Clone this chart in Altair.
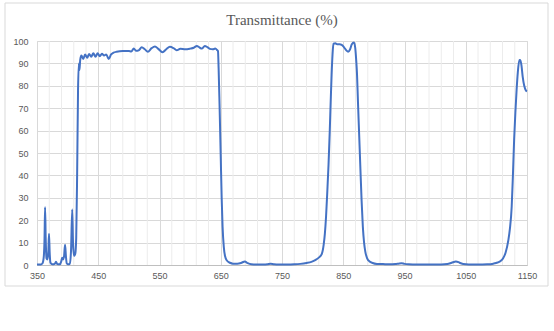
import altair as alt
import pandas as pd

wavelength = [
    350, 356, 359, 361, 362.3, 363.2, 364.2, 365.5, 367, 368.5, 369.6, 370.8, 372, 375, 379, 381, 383,
    387, 389.5, 391, 392.5, 394, 395.8, 397.2, 398.5, 401, 403.5, 405.5, 407.5, 408.8, 410.5, 412.5,
    414, 415.5, 417, 418.3, 419.3, 420.5, 422.5, 425.5, 428.5, 432, 435, 438.5, 442, 445.5, 449,
    452.5, 456, 459.5, 463, 467, 471, 475, 480, 490, 500, 504, 508, 512, 516,
    521, 526, 531, 537, 542.6, 548, 555, 561, 567, 573, 578, 584, 592, 600, 606, 611, 615, 619, 624,
    628, 632, 637, 641, 644, 645.5, 646.5, 648, 650, 651.5, 653, 655, 657, 660, 665, 670, 677, 683,
    689.5, 694, 700, 710, 720, 726, 731.5, 737, 745, 760, 770, 780, 790, 798, 805, 810, 815, 818, 820,
    822, 824, 826, 828, 829.5, 831, 832.5, 834, 837, 840, 844, 847.5, 851, 855, 858, 861, 864, 867.5,
    869.5, 871, 872.5, 874, 876, 878, 880, 882, 884, 886, 889, 893, 898, 905, 915, 925, 935, 940, 945,
    950, 957, 970, 990, 1010, 1020, 1027, 1034, 1040, 1046, 1055, 1070, 1085, 1095, 1102, 1107, 1111,
    1115, 1119.5, 1122, 1125, 1127, 1129, 1131, 1133, 1135, 1137.5, 1139, 1141, 1143, 1145.5, 1148, 1150,
]
transmittance = [
    0.2, 0.2, 0.8, 3.5, 12, 25.8, 12, 3, 2.5, 6, 14, 5, 1, 0.3, 0.5, 1.5, 0.4,
    0.3, 1.5, 3.2, 2.5, 3.5, 9, 4, 0.8, 0.3, 0.6, 6, 24.8, 10, 4, 5,
    12, 40, 78, 90, 87, 91.5, 93.5, 92, 94, 92.5, 94.2, 93, 94.5, 93, 94.5,
    93.2, 94.3, 93.5, 94, 92, 94, 94.8, 95.2, 95.5, 95.5, 95.3, 96.6, 95.6, 95.8,
    97.2, 96.3, 95.2, 96.8, 97.6, 96.5, 95, 96.3, 97.4, 96.8, 95.9, 96.5, 96.3, 96.6, 97, 97.8, 97.2, 96.6, 97.8,
    97.3, 96.5, 96.3, 96.6, 96, 95.5, 88, 72, 48, 30, 17, 8, 4, 2, 1, 0.6, 0.6, 0.9,
    1.6, 0.8, 0.3, 0.2, 0.2, 0.3, 0.6, 0.3, 0.2, 0.2, 0.3, 0.5, 0.9, 1.4, 2.3, 3.3, 5, 9, 14,
    22, 33, 45, 60, 73, 85, 94, 98.8, 99, 98.5, 98.6, 98.3, 97.3, 95.8, 95.2, 96.2, 98.5, 99.3,
    97, 92, 85, 73, 58, 43, 28.5, 17, 10, 6, 3, 1.6, 0.9, 0.5, 0.4, 0.3, 0.4, 0.6, 0.8,
    0.5, 0.3, 0.2, 0.2, 0.2, 0.4, 1, 1.6, 1, 0.4, 0.2, 0.2, 0.3, 0.6, 1.1, 1.8, 3,
    5.5, 11, 16, 26, 40, 56, 68, 78, 86, 91.5, 91.5, 89, 84, 80, 78, 77.5,
]

x_labels = [350, 450, 550, 650, 750, 850, 950, 1050, 1150]
y_ticks = [0, 10, 20, 30, 40, 50, 60, 70, 80, 90, 100]
minor_grid = [370, 390, 410, 430, 470, 490, 510, 530, 570, 590, 610, 630, 670, 690, 710, 730,
              770, 790, 810, 830, 870, 890, 910, 930, 970, 990, 1010, 1030, 1070, 1090, 1110, 1130]
title_text = "Transmittance (%)"

df = pd.DataFrame({"wl": wavelength, "t": transmittance})
grid_df = pd.DataFrame({"g": minor_grid})

label_font = "Liberation Sans"
gray = "#595959"

xscale = alt.Scale(domain=[350, 1150], nice=False, zero=False)
yscale = alt.Scale(domain=[0, 100], nice=False)

x_axis = alt.Axis(values=x_labels, grid=True, gridColor="#d9d9d9", format="d",
                  domainColor="#bfbfbf", ticks=False, labelPadding=6,
                  labelFontSize=9, labelColor=gray, labelFont=label_font,
                  labelFlush=False)
y_axis = alt.Axis(values=y_ticks, grid=True, gridColor="#d9d9d9", format="d",
                  domain=False, ticks=False, labelPadding=9,
                  labelFontSize=9, labelColor=gray, labelFont=label_font)

one = pd.DataFrame({"a": [0]})

frame = alt.Chart(one).mark_rect(
    fill=None, stroke="#d9d9d9", strokeWidth=1
).encode(
    x=alt.value(-32), x2=alt.value(511), y=alt.value(-38), y2=alt.value(245)
)

title = alt.Chart(one).mark_text(
    font="Liberation Serif", fontSize=15, color=gray, align="center", baseline="alphabetic"
).encode(
    x=alt.value(245), y=alt.value(-16), text=alt.value(title_text)
)

minor = alt.Chart(grid_df).mark_rule(color="#ececec", strokeWidth=1).encode(
    x=alt.X("g:Q", scale=xscale, title=None, axis=x_axis)
)

line = alt.Chart(df).mark_line(
    color="#4472C4", strokeWidth=2, interpolate="monotone"
).encode(
    x=alt.X("wl:Q", scale=xscale, title=None, axis=x_axis),
    y=alt.Y("t:Q", scale=yscale, title=None, axis=y_axis),
)

chart = alt.layer(frame, title, minor, line).properties(
    width=490, height=224,
    autosize=alt.AutoSizeParams(type="none"),
    padding={"left": 37, "top": 41, "right": 27, "bottom": 66},
).configure_view(stroke=None).configure(background="white")

chart.save("out.html", embed_options={"renderer": "svg", "actions": False})
